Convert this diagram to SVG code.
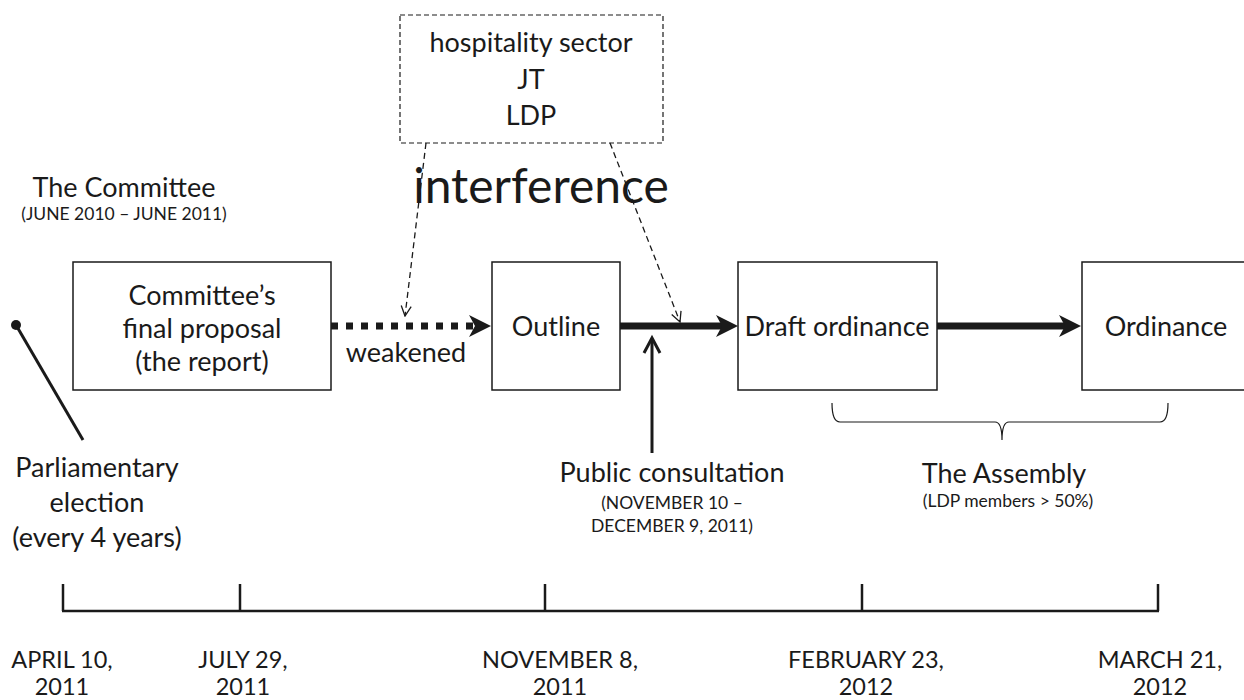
<svg xmlns="http://www.w3.org/2000/svg" width="1244" height="700" viewBox="0 0 1244 700">
<style>
text{font-family:Lato,"Liberation Sans",sans-serif;fill:#1a1a1a}
.m{font-size:27px;text-anchor:middle}
.s{font-size:17.5px;text-anchor:middle}
.d{font-size:23.5px;text-anchor:middle}
.box{fill:#fff;stroke:#1a1a1a;stroke-width:1.5}
.thick{stroke:#1a1a1a;stroke-width:7;fill:none}
.thin{stroke:#1a1a1a;stroke-width:1.3;fill:none;stroke-dasharray:6 4}
.tl{stroke:#1a1a1a;stroke-width:2.5;fill:none}
</style>
<defs>
<marker id="big" markerUnits="userSpaceOnUse" viewBox="0 0 22 22" refX="8" refY="11" markerWidth="22" markerHeight="22" orient="auto">
<path d="M0,0 L22,11 L0,22 L6,11 Z" fill="#1a1a1a"/>
</marker>
<marker id="open" markerUnits="userSpaceOnUse" viewBox="0 0 12 12" refX="11" refY="6" markerWidth="12" markerHeight="12" orient="auto">
<path d="M1,1 L11,6 L1,11" fill="none" stroke="#1a1a1a" stroke-width="1.3"/>
</marker>
</defs>

<g id="committee-label">
<text class="m" x="124" y="197">The Committee</text>
<text class="s" x="124" y="220">(JUNE 2010 – JUNE 2011)</text>
</g>

<g id="interest-groups">
<rect x="400" y="15" width="263" height="128" fill="#fff" stroke="#1a1a1a" stroke-width="1.2" stroke-dasharray="5 3"/>
<text class="m" x="531" y="52">hospitality sector</text>
<text class="m" x="531" y="89">JT</text>
<text class="m" x="531" y="125">LDP</text>
</g>

<g id="interference-label">
<text x="541" y="203" font-size="48" text-anchor="middle">interference</text>
</g>

<g id="proposal">
<rect class="box" x="73" y="262" width="258" height="128"/>
<text class="m" x="202" y="305">Committee’s</text>
<text class="m" x="202" y="338">final proposal</text>
<text class="m" x="202" y="371">(the report)</text>
</g>

<g id="outline">
<rect class="box" x="492" y="262" width="128" height="128"/>
<text class="m" x="556" y="336">Outline</text>
</g>

<g id="draft">
<rect class="box" x="738" y="262" width="199" height="128"/>
<text class="m" x="837" y="336">Draft ordinance</text>
</g>

<g id="ordinance">
<rect class="box" x="1082" y="262" width="180" height="128"/>
<text class="m" x="1166" y="336">Ordinance</text>
</g>

<g id="election">
<circle cx="16" cy="325" r="5" fill="#1a1a1a"/>
<text class="m" x="97" y="477">Parliamentary</text>
<text class="m" x="97" y="512">election</text>
<text class="m" x="97" y="547">(every 4 years)</text>
</g>

<g id="consultation">
<text class="m" x="672" y="482">Public consultation</text>
<text class="s" x="672" y="509">(NOVEMBER 10 –</text>
<text class="s" x="672" y="532">DECEMBER 9, 2011)</text>
</g>

<g id="assembly">
<path d="M832,403 Q832,422 840,422 L995,422 Q1002,422 1002,440 Q1002,422 1009,422 L1160,422 Q1168,422 1168,403" fill="none" stroke="#1a1a1a" stroke-width="1.2"/>
<text class="m" x="1004" y="483">The Assembly</text>
<text class="s" x="1008" y="507">(LDP members &gt; 50%)</text>
</g>

<g id="weakened-label">
<text class="m" x="406" y="362">weakened</text>
</g>

<g id="connectors">
<line x1="83" y1="440" x2="16" y2="325" stroke="#1a1a1a" stroke-width="3"/>
<line x1="331" y1="326" x2="477" y2="326" class="thick" stroke-dasharray="7 8" marker-end="url(#big)"/>
<line x1="620" y1="326" x2="724" y2="326" class="thick" marker-end="url(#big)"/>
<line x1="937" y1="326" x2="1067" y2="326" class="thick" marker-end="url(#big)"/>
<line x1="426" y1="143" x2="405" y2="316" class="thin" marker-end="url(#open)"/>
<line x1="610" y1="143" x2="680" y2="322" class="thin" marker-end="url(#open)"/>
<line x1="652" y1="453" x2="652" y2="339" stroke="#1a1a1a" stroke-width="3"/>
<path d="M644,353 L652,338 L660,353" fill="none" stroke="#1a1a1a" stroke-width="3"/>
</g>

<g id="timeline">
<line class="tl" x1="62" y1="611" x2="1159" y2="611" stroke-width="3"/>
<line class="tl" x1="63" y1="584" x2="63" y2="611"/>
<line class="tl" x1="240" y1="584" x2="240" y2="611"/>
<line class="tl" x1="545" y1="584" x2="545" y2="611"/>
<line class="tl" x1="862" y1="584" x2="862" y2="611"/>
<line class="tl" x1="1158" y1="584" x2="1158" y2="611"/>
<text class="d" x="62" y="668">APRIL 10,</text>
<text class="d" x="62" y="695">2011</text>
<text class="d" x="243" y="668">JULY 29,</text>
<text class="d" x="243" y="695">2011</text>
<text class="d" x="560" y="668">NOVEMBER 8,</text>
<text class="d" x="560" y="695">2011</text>
<text class="d" x="866" y="668">FEBRUARY 23,</text>
<text class="d" x="866" y="695">2012</text>
<text class="d" x="1160" y="668">MARCH 21,</text>
<text class="d" x="1160" y="695">2012</text>
</g>
</svg>
